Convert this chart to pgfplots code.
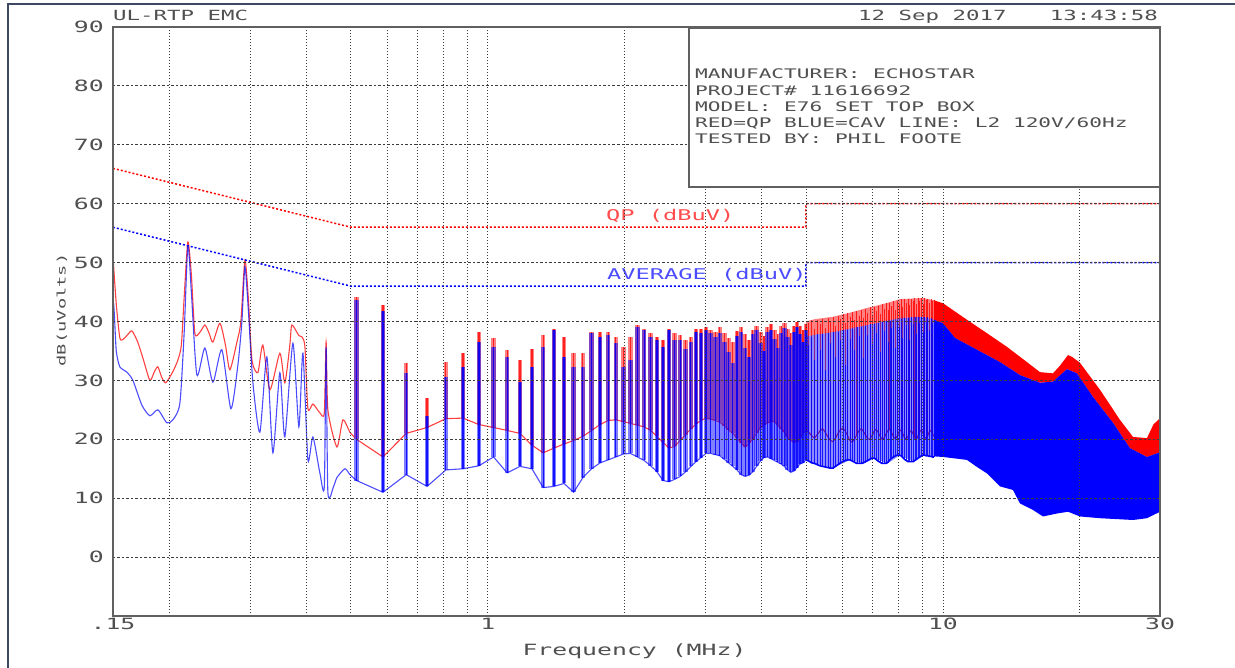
\documentclass[border=0pt]{standalone}
\usepackage{fontspec}
\usepackage{pgfplots}
\usepackage{pgfplotstable}
\pgfplotsset{compat=1.18}

% plotter-like lettering: a wide monospaced face
\newfontfamily\plotter{DejaVu Sans Mono}[FakeStretch=1.6]
\newcommand\plotsize[1]{\fontsize{#1}{#1}\selectfont\plotter}

\definecolor{inkgray}{RGB}{80,80,80}
\definecolor{framecol}{RGB}{60,72,100}
\definecolor{gridgray}{RGB}{60,60,60}

% ---------------- QP (red) trace, 0.15 - 0.5 MHz ----------------
\pgfplotstableread{
f y
0.1500 51.0
0.1525 43.0
0.1553 37.2
0.1580 37.0
0.1609 37.6
0.1651 38.4
0.1700 36.5
0.1750 33.5
0.1808 30.0
0.1850 31.5
0.1883 32.3
0.1920 30.5
0.1960 29.6
0.2031 31.5
0.2084 33.5
0.2120 36.0
0.2150 44.0
0.2191 53.5
0.2230 48.0
0.2270 38.0
0.2330 38.2
0.2388 39.4
0.2440 38.0
0.2487 36.5
0.2576 39.7
0.2650 36.0
0.2710 31.8
0.2808 36.5
0.2865 40.0
0.2924 50.4
0.2975 44.0
0.3030 33.5
0.3122 31.3
0.3202 36.0
0.3318 28.4
0.3490 34.6
0.3579 29.6
0.3671 36.0
0.3709 39.4
0.3843 37.6
0.3902 37.4
0.3962 35.7
0.4022 25.2
0.4125 26.0
0.4273 24.5
0.4370 24.5
0.4410 36.5
0.4450 25.0
0.4658 18.7
0.4801 23.3
0.4975 21.2
0.5145 20.0
}\qplow

% ---------------- CAV (blue) trace, 0.15 - 0.5 MHz ----------------
\pgfplotstableread{
f y
0.1500 -10.0
0.1500 42.0
0.1525 35.0
0.1553 32.3
0.1609 31.4
0.1659 30.0
0.1736 25.8
0.1808 24.0
0.1883 25.0
0.1970 22.8
0.2031 23.3
0.2104 26.1
0.2150 38.0
0.2191 52.8
0.2230 45.0
0.2293 30.9
0.2388 35.5
0.2487 29.7
0.2602 35.2
0.2724 25.2
0.2822 32.6
0.2880 40.0
0.2924 49.3
0.2975 42.0
0.3045 29.6
0.3154 21.2
0.3268 34.0
0.3369 17.7
0.3490 31.3
0.3579 20.4
0.3728 36.3
0.3843 22.1
0.3922 34.6
0.4022 16.5
0.4125 20.4
0.4273 14.3
0.4370 12.0
0.4410 35.7
0.4450 11.0
0.4580 12.0
0.4658 13.5
0.4850 15.0
0.4975 14.0
0.5145 13.0
}\cavlow

% harmonics of the 73.5 kHz switcher: frequency, QP floor, QP peak, CAV floor, CAV peak
\pgfplotstableread{
f rb rp bb bp
0.5145 20.0 44.2 13.0 43.6
0.5880 17.0 42.8 11.0 41.7
0.6615 21.0 32.9 14.0 31.2
0.7350 22.0 27.0 12.0 24.0
0.8085 23.5 33.2 14.8 30.6
0.8820 23.6 34.6 15.0 32.3
0.9555 22.5 38.3 15.5 36.6
1.0290 22.0 37.2 17.0 35.7
1.1025 21.5 35.2 14.3 34.0
1.1760 21.0 33.5 15.4 29.8
1.2495 19.0 35.4 15.0 32.3
1.3230 17.7 37.7 11.8 35.7
1.3965 18.5 38.8 12.0 38.5
1.4700 19.2 37.4 12.5 34.0
1.5435 19.8 34.6 11.0 32.3
1.6170 20.5 34.6 13.5 32.3
1.6905 21.5 38.3 15.0 38.0
1.7640 22.5 38.3 16.0 37.4
1.8375 23.2 38.3 16.5 37.7
1.9110 23.3 37.4 17.0 36.3
1.9845 23.0 35.7 17.5 32.3
2.0580 22.7 37.4 17.6 33.5
2.1315 22.4 39.4 17.0 39.1
2.2050 22.1 38.8 16.4 38.5
2.2785 21.5 38.0 15.5 37.4
2.3520 20.5 37.4 14.5 36.9
2.4255 19.5 36.9 13.0 35.7
2.4990 18.5 38.8 12.8 38.5
2.5725 18.8 38.0 13.2 36.9
2.6460 19.8 37.7 13.7 36.9
2.7195 20.8 36.9 14.5 35.4
2.7930 21.8 37.4 15.4 36.6
2.8665 22.6 38.8 16.2 38.3
2.9400 23.2 38.8 16.9 38.0
3.0135 23.6 39.1 17.6 38.6
3.0870 23.4 38.6 17.6 38.0
3.1605 23.2 38.3 17.4 37.4
3.2340 22.9 39.1 17.2 38.0
3.3075 22.3 38.0 16.6 36.5
3.3810 21.6 37.2 16.0 34.8
3.4545 21.0 36.6 15.4 33.0
3.5280 20.2 38.4 14.8 37.6
3.6015 19.4 39.0 14.0 38.2
3.6750 18.7 37.8 13.7 35.5
3.7485 19.3 36.8 13.9 34.0
3.8220 20.1 38.6 14.5 37.8
3.8955 21.0 39.2 15.4 38.5
3.9690 22.0 38.2 16.3 36.4
4.0425 22.4 37.5 16.9 35.0
4.1160 22.8 39.0 17.0 38.2
4.1895 23.0 39.5 16.7 38.6
4.2630 23.0 38.6 16.4 37.0
4.3365 22.4 37.8 16.1 35.5
4.4100 21.8 39.2 15.8 38.0
4.4835 21.2 39.8 15.4 38.9
4.5570 20.4 38.8 14.8 37.4
4.6305 19.8 38.0 14.4 36.0
4.7040 19.5 39.3 14.6 38.3
4.7775 19.6 39.9 15.2 39.0
4.8510 20.3 39.2 15.8 37.8
4.9245 21.0 38.5 16.0 36.6
4.9980 21.4 39.6 16.5 38.6
}\harmlow

\pgfplotstableread{
f rb rp bb bp
4.9980 21.4 39.6 16.5 38.6
5.0715 21.2 39.8 16.3 36.0
5.1450 20.6 40.2 16.0 37.3
5.2185 20.2 38.8 15.9 33.5
5.2920 20.8 40.3 15.7 37.8
5.3655 21.4 39.6 15.5 35.2
5.4390 21.8 40.5 15.4 37.9
5.5125 21.2 38.9 15.3 31.8
5.5860 20.4 40.6 15.2 38.0
5.6595 19.8 40.1 15.1 36.4
5.7330 19.6 40.8 15.1 38.2
5.8065 20.2 39.2 15.4 34.0
5.8800 21.0 40.9 15.7 38.3
5.9535 21.6 40.4 16.0 36.9
6.0270 21.9 41.2 16.2 38.5
6.1005 21.4 39.8 16.4 32.6
6.1740 20.6 41.4 16.5 38.6
6.2475 19.8 40.8 16.5 37.0
6.3210 19.5 41.6 16.3 38.8
6.3945 20.0 40.2 16.1 35.1
6.4680 20.8 41.8 15.9 39.0
6.5415 21.5 41.0 15.9 37.6
6.6150 21.8 42.0 15.9 39.1
6.6885 21.3 40.6 16.0 33.8
6.7620 20.7 42.2 16.2 39.3
6.8355 20.1 41.5 16.4 37.7
6.9090 20.0 42.4 16.6 39.5
6.9825 20.6 41.0 16.8 36.2
7.0560 21.3 42.5 16.8 39.6
7.1295 21.7 41.8 16.6 38.1
7.2030 21.2 42.7 16.3 39.8
7.2765 20.5 41.2 16.1 34.9
7.3500 20.0 42.9 15.9 39.9
7.4235 20.2 42.2 15.9 38.4
7.4970 20.9 43.1 15.9 40.0
7.5705 21.5 41.9 16.1 36.6
7.6440 21.7 43.2 16.5 40.1
7.7175 21.1 42.6 16.8 38.9
7.7910 20.4 43.4 17.0 40.2
7.8645 20.1 42.0 17.2 35.5
7.9380 20.6 43.5 17.3 40.3
8.0115 21.3 43.0 17.3 39.0
8.0850 21.6 43.8 17.2 40.5
8.1585 21.0 42.5 16.9 37.2
8.2320 20.3 43.8 16.6 40.6
8.3055 20.0 43.2 16.4 39.4
8.3790 20.5 43.9 16.2 40.6
8.4525 21.2 42.8 16.2 36.8
8.5260 21.5 43.9 16.2 40.7
8.5995 20.9 43.4 16.2 39.6
8.6730 20.2 44.0 16.4 40.7
8.7465 20.0 42.9 16.6 37.9
8.8200 20.6 44.0 16.8 40.8
8.8935 21.3 43.5 17.0 39.8
8.9670 21.6 44.0 17.2 40.8
9.0405 21.0 43.0 17.3 38.3
9.1140 20.4 44.0 17.3 40.8
9.1875 20.1 43.6 17.2 39.9
9.2610 20.6 43.9 17.2 40.7
9.3345 21.3 43.2 17.1 38.6
9.4080 21.5 43.8 17.1 40.6
9.4815 21.0 43.4 17.0 39.8
9.5550 20.5 43.6 17.0 40.3
}\harmhigh

\begin{document}
\begin{tikzpicture}[x=1pt,y=1pt]
\useasboundingbox (0,0) rectangle (1235,668);
\draw[framecol, line width=1.6pt] (8,0) -- (8,664) -- (1235,664);

\begin{axis}[
  at={(113pt,52pt)}, anchor=south west,
  scale only axis, width=1047pt, height=589pt,
  xmode=log, xmin=0.15, xmax=30, ymin=-10, ymax=90,
  xtick={0.15,1,10,30}, xticklabels={.15,1,10,30},
  minor xtick={0.2,0.3,0.4,0.5,0.6,0.7,0.8,0.9,2,3,4,5,6,7,8,9,20},
  ytick={0,10,20,30,40,50,60,70,80,90},
  yticklabels={0,10,20,30,40,50,60,70,80,90},
  major tick length=0pt, minor tick length=0pt,
  xmajorgrids, xminorgrids, ymajorgrids,
  major x grid style={gridgray, line width=0.9pt, dash pattern=on 1.2pt off 1.8pt},
  minor x grid style={gridgray, line width=0.9pt, dash pattern=on 1.2pt off 1.8pt},
  major y grid style={gridgray, line width=0.9pt, dash pattern=on 2.5pt off 2pt},
  axis line style={draw=gray!75!black, line width=1.2pt},
  xticklabel style={font=\plotsize{15.5}, text=inkgray, anchor=north, inner sep=0pt, yshift=-2pt},
  yticklabel style={font=\plotsize{15.5}, text=inkgray, anchor=east, inner sep=0pt, xshift=-9pt},
  axis on top,
]

% QP band above 5 MHz, where the comb is too dense to resolve
\addplot[draw=none, fill=red!50] coordinates {
 (5.00,40.0) (5.23,40.4) (5.73,40.8) (6.25,41.5) (6.81,42.3) (7.42,43.0)
 (8.05,43.8) (8.55,43.9) (9.04,44.0) (9.555,43.6)
 (9.555,40.3) (9.04,40.8) (8.05,40.6) (6.81,39.4) (5.73,38.2) (5.00,37.5)} -- cycle;
\addplot[draw=none, fill=red] coordinates {
 (9.555,43.6) (10.0,43.1) (11.29,40.3) (12.5,38.0) (13.82,35.7) (15.30,33.1)
 (16.34,31.4) (17.45,31.2) (18.08,32.5) (18.83,34.3) (19.21,34.0) (20.0,33.0)
 (22.14,28.4) (24.49,23.3) (26.16,20.4) (28.08,20.2) (29.0,22.5) (30,23.6)
 (30,17.8) (28.08,17.0) (25.76,18.5) (23.64,22.8) (21.36,27.2) (19.70,31.2)
 (18.73,31.9) (17.45,29.8) (16.34,29.6) (14.77,30.9) (13.35,33.1) (11.88,35.2)
 (10.63,37.2) (10.0,39.7) (9.555,40.3)} -- cycle;

% QP trace
\addplot[red, draw opacity=0.75, line width=1.1pt, smooth, tension=0.4] table[x=f, y=y] {\qplow};
\addplot[draw=none,
  error bars/.cd, y dir=plus, y explicit, error mark=none,
  error bar style={draw=red!50, line width=4.5pt}]
  table[x=f, y=rb, y error expr=\thisrow{rp}-\thisrow{rb}] {\harmlow};
\addplot[red, draw opacity=0.75, line width=1.1pt,
  error bars/.cd, y dir=plus, y explicit, error mark=none,
  error bar style={draw=red, line width=1.2pt}]
  table[x=f, y=rb, y error expr=\thisrow{rp}-\thisrow{rb}] {\harmlow};
\addplot[red!80!black, draw opacity=0.8, line width=1.1pt,
  error bars/.cd, y dir=plus, y explicit, error mark=none,
  error bar style={draw=red, line width=0.7pt}]
  table[x=f, y=rb, y error expr=\thisrow{rp}-\thisrow{rb}] {\harmhigh};

% CAV band above 5 MHz
\addplot[draw=none, fill=blue, fill opacity=0.45] coordinates {
 (5.0,37.5) (5.73,38.2) (6.81,39.4) (8.05,40.6) (9.04,40.8) (9.555,40.3)
 (9.555,17.1) (9.13,17.3) (8.6,16.2) (8.05,17.3) (7.55,15.9) (7.08,16.8)
 (6.67,15.9) (6.25,16.5) (5.73,15.1) (5.23,15.9) (5.0,16.5)} -- cycle;

% CAV trace
\addplot[blue, draw opacity=0.7, line width=1.1pt, smooth, tension=0.4] table[x=f, y=y] {\cavlow};
\addplot[draw=none,
  error bars/.cd, y dir=plus, y explicit, error mark=none,
  error bar style={draw=blue, draw opacity=0.5, line width=4.5pt}]
  table[x=f, y=bb, y error expr=\thisrow{bp}-\thisrow{bb}] {\harmlow};
\addplot[blue, draw opacity=0.7, line width=1.1pt,
  error bars/.cd, y dir=plus, y explicit, error mark=none,
  error bar style={draw=blue, draw opacity=0.85, line width=1.2pt}]
  table[x=f, y=bb, y error expr=\thisrow{bp}-\thisrow{bb}] {\harmlow};
\addplot[blue, line width=1.6pt,
  error bars/.cd, y dir=plus, y explicit, error mark=none,
  error bar style={draw=blue, draw opacity=0.85, line width=0.6pt}]
  table[x=f, y=bb, y error expr=\thisrow{bp}-\thisrow{bb}] {\harmhigh};
\addplot[draw=none, fill=blue] coordinates {
 (9.555,40.3) (10.0,39.7) (10.63,37.2) (11.88,35.2) (13.35,33.1) (14.77,30.9)
 (16.34,29.6) (17.45,29.8) (18.73,31.9) (19.70,31.2) (21.36,27.2) (23.64,22.8)
 (25.76,18.5) (28.08,17.0) (30,17.8)
 (30,7.7) (28.08,6.6) (26.16,6.3) (22.14,6.6) (20.0,6.9) (18.83,7.7) (17.81,7.4)
 (16.59,6.9) (15.77,8.0) (14.77,9.1) (14.25,11.4) (13.35,12.0) (12.5,14.2)
 (11.88,15.3) (11.29,16.5) (10.0,17.0) (9.555,17.1)} -- cycle;

% limit lines
\addplot[red, line width=1.5pt, dash pattern=on 2pt off 2pt]
  coordinates {(0.15,66) (0.5,56) (5,56) (5,60) (30,60)};
\addplot[blue, line width=1.5pt, dash pattern=on 2pt off 2pt]
  coordinates {(0.15,56) (0.5,46) (5,46) (5,50) (30,50)};

\node[anchor=base west, inner sep=0pt, text=red!70, font=\plotsize{14.8}]
  at (axis cs:1.817,57.2) {QP (dBuV)};
\node[anchor=base west, inner sep=0pt, text=blue!70, font=\plotsize{14.8}]
  at (axis cs:1.826,47.15) {AVERAGE (dBuV)};
\end{axis}

% header
\node[anchor=base west, inner sep=0pt, text=inkgray, font=\plotsize{14}] at (113,647) {UL-RTP EMC};
\node[anchor=base west, inner sep=0pt, text=inkgray, font=\plotsize{14}] at (858,647) {12 Sep 2017};
\node[anchor=base east, inner sep=0pt, text=inkgray, font=\plotsize{14}] at (1158,647) {13:43:58};

% test information box
\draw[gray!75!black, line width=1.2pt, fill=white] (689,481) rectangle (1160,640);
\begin{scope}[every node/.style={anchor=base west, inner sep=0pt, text=inkgray, font=\plotsize{13.2}}]
\node at (695,589.0) {MANUFACTURER: ECHOSTAR};
\node at (695,572.8) {PROJECT\# 11616692};
\node at (695,556.6) {MODEL: E76 SET TOP BOX};
\node at (695,540.4) {RED=QP BLUE=CAV LINE: L2 120V/60Hz};
\node at (695,524.2) {TESTED BY: PHIL FOOTE};
\end{scope}

% axis titles
\node[anchor=base, inner sep=0pt, text=inkgray, font=\plotsize{15.5}] at (634.5,12.5) {Frequency (MHz)};
\node[rotate=90, anchor=center, inner sep=0pt, text=inkgray, font=\plotsize{11.7}] at (62,358) {dB(uVolts)};
\end{tikzpicture}
\end{document}
